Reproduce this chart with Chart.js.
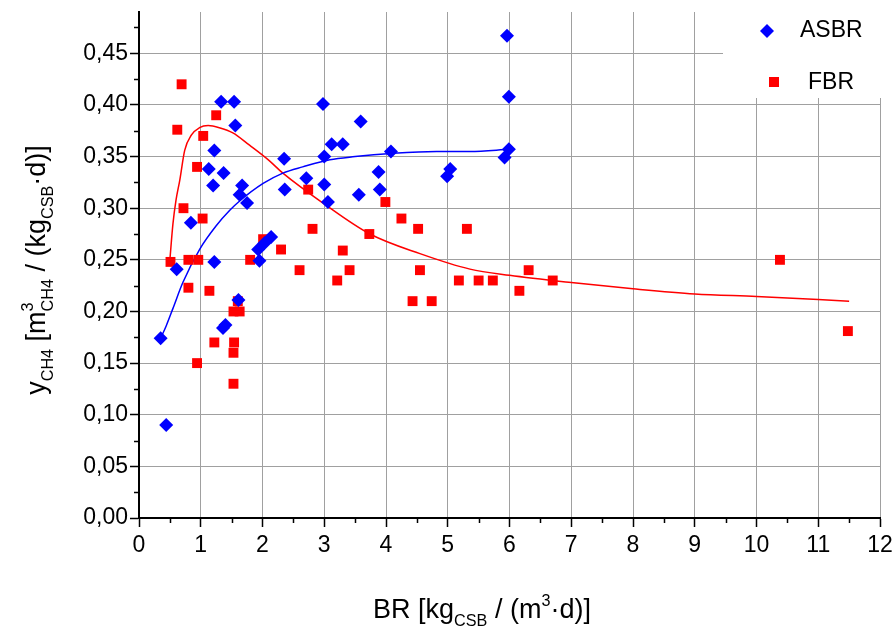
<!DOCTYPE html>
<html>
<head>
<meta charset="utf-8">
<script src="https://cdn.jsdelivr.net/npm/chart.js@4/dist/chart.umd.min.js"></script>
<style>
  body { margin: 0; background: #fff; }
  #wrap { position: relative; width: 893px; height: 631px; }
  .axis-title {
    position: absolute;
    font-family: "Liberation Sans", Arial, sans-serif;
    font-size: 27px;
    line-height: 30px;
    color: #000;
    text-align: center;
    white-space: nowrap;
  }
  .axis-title sub, .axis-title sup {
    font-size: 60%;
    line-height: 0;
    position: relative;
    vertical-align: baseline;
  }
  .axis-title sub { bottom: -0.5em; }
  .axis-title sup { top: -0.75em; }
  .axis-title .back { margin-left: -0.556em; }
  #xTitle { left: 282px; top: 594px; width: 400px; height: 30px; }
  #yTitle { left: -164px; top: 255px; width: 400px; height: 30px; transform: rotate(-90deg); }
</style>
</head>
<body>
<div id="wrap">
  <canvas id="chart" width="893" height="631"></canvas>
  <div id="xTitle" class="axis-title">BR [kg<sub>CSB</sub> / (m<sup>3</sup>·d)]</div>
  <div id="yTitle" class="axis-title">y<sub>CH4</sub> [m<sup>3</sup><sub class="back">CH4</sub> / (kg<sub>CSB</sub>·d)]</div>
</div>
<script>
// Datos: ASBR (rombos azules)
const asbrX = [0.35, 0.44, 0.61, 0.84, 1.13, 1.20, 1.22, 1.22, 1.33, 1.37, 1.36, 1.40, 1.54, 1.56, 1.61, 1.63, 1.67, 1.75, 1.93, 1.95, 2.03, 2.14, 2.35, 2.36, 2.71, 2.98, 3.00, 3.00, 3.06, 3.12, 3.30, 3.59, 3.56, 3.88, 3.90, 4.08, 5.04, 4.99, 5.92, 5.99, 5.99, 5.96];
const asbrY = [0.174, 0.090, 0.241, 0.286, 0.338, 0.322, 0.356, 0.248, 0.403, 0.334, 0.184, 0.187, 0.403, 0.380, 0.211, 0.313, 0.322, 0.305, 0.260, 0.249, 0.266, 0.272, 0.348, 0.318, 0.329, 0.401, 0.350, 0.323, 0.306, 0.362, 0.362, 0.384, 0.313, 0.335, 0.318, 0.355, 0.338, 0.331, 0.349, 0.357, 0.408, 0.467];

// FBR (cuadrados rojos)
const fbrX = [0.51, 0.62, 0.69, 0.72, 0.80, 0.80, 0.94, 0.96, 0.94, 1.03, 1.04, 1.14, 1.22, 1.25, 1.53, 1.53, 1.54, 1.53, 1.63, 1.60, 1.80, 2.01, 2.30, 2.60, 2.74, 2.81, 3.21, 3.30, 3.41, 3.73, 3.99, 4.25, 4.43, 4.52, 4.55, 4.74, 5.18, 5.31, 5.50, 5.73, 6.16, 6.31, 6.70, 10.38, 11.48];
const fbrY = [0.248, 0.376, 0.420, 0.300, 0.250, 0.223, 0.340, 0.250, 0.150, 0.290, 0.370, 0.220, 0.170, 0.390, 0.130, 0.160, 0.170, 0.200, 0.200, 0.210, 0.250, 0.270, 0.260, 0.240, 0.318, 0.280, 0.230, 0.259, 0.240, 0.275, 0.306, 0.290, 0.210, 0.280, 0.240, 0.210, 0.230, 0.280, 0.230, 0.230, 0.220, 0.240, 0.230, 0.250, 0.181];

// Curvas de ajuste (puntos leídos sobre las líneas)
const asbrFitX = [0.35, 0.44, 0.55, 0.71, 0.98, 1.25, 1.47, 1.63, 2.01, 2.33, 2.65, 3.09, 3.50, 4.08, 4.82, 5.36, 6.00];
const asbrFitY = [0.174, 0.186, 0.203, 0.228, 0.260, 0.283, 0.298, 0.307, 0.324, 0.334, 0.340, 0.347, 0.350, 0.353, 0.355, 0.355, 0.357];
const fbrFitX = [0.50, 0.55, 0.60, 0.66, 0.74, 0.85, 0.98, 1.12, 1.30, 1.52, 1.79, 2.09, 2.33, 2.98, 3.74, 4.55, 5.36, 6.00, 7.00, 8.00, 9.00, 10.00, 11.50];
const fbrFitY = [0.250, 0.285, 0.308, 0.327, 0.356, 0.371, 0.378, 0.380, 0.378, 0.373, 0.361, 0.347, 0.334, 0.305, 0.275, 0.256, 0.241, 0.235, 0.228, 0.222, 0.217, 0.2145, 0.210];

// Ejes y etiquetas
const xMin = 0, xMax = 12, xStep = 1;
const yMin = 0, yMax = 0.49, yStep = 0.05;
const legendLabels = ["ASBR", "FBR"];

const BLUE = "#0000ff";
const RED = "#ff0000";
const FONT = "'Liberation Sans', Arial, sans-serif";

function toPoints(xs, ys) {
    return xs.map((x, i) => ({ x: x, y: ys[i] }));
}

// Marcas menores de los ejes
const minorTicks = {
    id: "minorTicks",
    afterDraw(chart) {
        const ctx = chart.ctx;
        const xs = chart.scales.x;
        const ys = chart.scales.y;
        const area = chart.chartArea;
        ctx.save();
        ctx.strokeStyle = "#000";
        ctx.lineWidth = 1.5;
        ctx.beginPath();
        for (let v = xMin + xStep / 2; v < xMax; v += xStep) {
            const px = Math.round(xs.getPixelForValue(v)) + 0.5;
            ctx.moveTo(px, area.bottom);
            ctx.lineTo(px, area.bottom + 5);
        }
        for (let v = yMin + yStep / 2; v < yMax; v += yStep) {
            const py = Math.round(ys.getPixelForValue(v)) + 0.5;
            ctx.moveTo(area.left, py);
            ctx.lineTo(area.left - 5, py);
        }
        ctx.stroke();
        ctx.restore();
    }
};

// Leyenda dentro del área, con fondo blanco
const boxLegend = {
    id: "boxLegend",
    beforeDatasetsDraw(chart) {
        const ctx = chart.ctx;
        ctx.save();
        ctx.fillStyle = "#fff";
        ctx.fillRect(723, 0, chart.width - 723, 98);

        ctx.fillStyle = BLUE;
        ctx.beginPath();
        ctx.moveTo(767, 24);
        ctx.lineTo(774, 31);
        ctx.lineTo(767, 38);
        ctx.lineTo(760, 31);
        ctx.closePath();
        ctx.fill();

        ctx.fillStyle = RED;
        ctx.fillRect(769, 77, 10, 10);

        ctx.fillStyle = "#000";
        ctx.font = "23px " + FONT;
        ctx.textBaseline = "middle";
        ctx.fillText(legendLabels[0], 800, 31);
        ctx.fillText(legendLabels[1], 808, 83);
        ctx.restore();
    }
};

function renderChart() {
    const ctx = document.getElementById("chart").getContext("2d");

    new Chart(ctx, {
        type: "scatter",
        data: {
            datasets: [
                {
                    label: legendLabels[0],
                    data: toPoints(asbrX, asbrY),
                    pointStyle: "rectRot",
                    pointRadius: 7,
                    backgroundColor: BLUE,
                    borderColor: BLUE,
                    borderWidth: 0,
                    order: 0
                },
                {
                    label: legendLabels[1],
                    data: toPoints(fbrX, fbrY),
                    pointStyle: "rect",
                    pointRadius: 7,
                    backgroundColor: RED,
                    borderColor: RED,
                    borderWidth: 0,
                    order: 0
                },
                {
                    label: "ASBR fit",
                    data: toPoints(asbrFitX, asbrFitY),
                    showLine: true,
                    pointRadius: 0,
                    borderColor: BLUE,
                    borderWidth: 1.5,
                    cubicInterpolationMode: "monotone",
                    order: 1
                },
                {
                    label: "FBR fit",
                    data: toPoints(fbrFitX, fbrFitY),
                    showLine: true,
                    pointRadius: 0,
                    borderColor: RED,
                    borderWidth: 1.5,
                    cubicInterpolationMode: "monotone",
                    order: 1
                }
            ]
        },
        options: {
            responsive: false,
            animation: false,
            layout: { padding: { top: 12, right: 13, bottom: 0, left: 0 } },
            plugins: {
                legend: { display: false },
                tooltip: { enabled: false }
            },
            scales: {
                x: {
                    type: "linear",
                    min: xMin,
                    max: xMax,
                    ticks: {
                        stepSize: xStep,
                        color: "#000",
                        font: { family: FONT, size: 23 },
                        padding: 5,
                        maxRotation: 0
                    },
                    grid: { color: "#a0a0a0", lineWidth: 1, tickColor: "#000", tickLength: 9, tickWidth: 1.5 },
                    border: { color: "#000", width: 2 },
                    afterFit(scale) {
                        scale.height = 113;
                        scale.paddingLeft = 0;
                        scale.paddingRight = 0;
                    }
                },
                y: {
                    min: yMin,
                    max: yMax,
                    ticks: {
                        stepSize: yStep,
                        includeBounds: false,
                        color: "#000",
                        font: { family: FONT, size: 23 },
                        padding: 2,
                        callback: v => v.toFixed(2).replace(".", ",")
                    },
                    grid: { color: "#a0a0a0", lineWidth: 1, tickColor: "#000", tickLength: 9, tickWidth: 1.5 },
                    border: { color: "#000", width: 2 },
                    afterFit(scale) {
                        scale.width = 139;
                        scale.paddingTop = 0;
                        scale.paddingBottom = 0;
                    }
                }
            }
        },
        plugins: [minorTicks, boxLegend]
    });
}

document.addEventListener("DOMContentLoaded", renderChart);
</script>
</body>
</html>
